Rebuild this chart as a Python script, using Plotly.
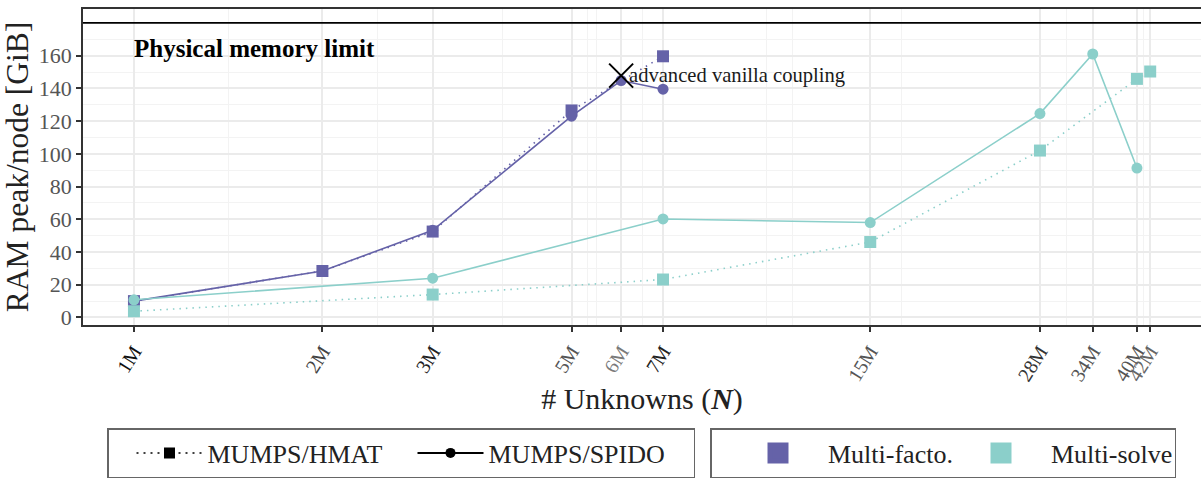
import numpy as np
import plotly.graph_objects as go

# ---------------- data ----------------
N_facto_spido = [1e6, 2e6, 3e6, 5e6, 6e6, 7e6]
ram_facto_spido = [10.0, 28.4, 53.3, 123.0, 144.8, 139.5]

N_facto_hmat = [1e6, 2e6, 3e6, 5e6, 7e6]
ram_facto_hmat = [10.0, 28.4, 52.5, 126.5, 159.6]

N_solve_spido = [1e6, 3e6, 7e6, 15e6, 28e6, 34e6, 40e6]
ram_solve_spido = [10.8, 24.0, 60.2, 58.0, 124.6, 161.0, 91.3]

N_solve_hmat = [1e6, 3e6, 7e6, 15e6, 28e6, 40e6, 42e6]
ram_solve_hmat = [3.8, 14.0, 23.2, 46.1, 102.0, 145.8, 150.3]

tick_N = [1e6, 2e6, 3e6, 5e6, 6e6, 7e6, 15e6, 28e6, 34e6, 40e6, 42e6]
tick_labels = ["1M", "2M", "3M", "5M", "6M", "7M", "15M", "28M", "34M", "40M", "42M"]
tick_colors = ["#111111", "#444444", "#222222", "#555555", "#7a7a7a", "#222222",
               "#555555", "#333333", "#555555", "#555555", "#666666"]
minor_N = [1.414e6, 2.449e6, 3.873e6, 5.31e6, 5.477e6, 6.48e6, 10.25e6,
           11.26e6, 16.8e6, 30.85e6, 40.99e6]

memory_limit = 180
vanilla_N = 6e6
vanilla_ram = 147.8

PURPLE = "#6562a8"
TEAL = "#8bcfca"
FONT = "Liberation Serif"

fig = go.Figure()

dot = "1.5px,5px"
fig.add_trace(go.Scatter(x=N_facto_hmat, y=ram_facto_hmat, mode="lines+markers",
                         line=dict(color=PURPLE, width=1.6, dash=dot),
                         marker=dict(symbol="square", size=12, color=PURPLE),
                         showlegend=False))
fig.add_trace(go.Scatter(x=N_facto_spido, y=ram_facto_spido, mode="lines+markers",
                         line=dict(color=PURPLE, width=1.6),
                         marker=dict(symbol="circle", size=11, color=PURPLE),
                         showlegend=False))
fig.add_trace(go.Scatter(x=N_solve_hmat, y=ram_solve_hmat, mode="lines+markers",
                         line=dict(color=TEAL, width=1.6, dash=dot),
                         marker=dict(symbol="square", size=12, color=TEAL),
                         showlegend=False))
fig.add_trace(go.Scatter(x=N_solve_spido, y=ram_solve_spido, mode="lines+markers",
                         line=dict(color=TEAL, width=1.6),
                         marker=dict(symbol="circle", size=11, color=TEAL),
                         showlegend=False))

# vanilla coupling cross
fig.add_trace(go.Scatter(x=[vanilla_N], y=[vanilla_ram], mode="markers",
                         marker=dict(symbol="x-thin", size=24, line=dict(color="black", width=2)),
                         showlegend=False))

# legend-only traces
fig.add_trace(go.Scatter(x=[None], y=[None], mode="lines+markers", name="MUMPS/HMAT",
                         line=dict(color="black", width=1.5, dash="2px,5px"),
                         marker=dict(symbol="square", size=11, color="black"),
                         legend="legend"))
fig.add_trace(go.Scatter(x=[None], y=[None], mode="lines+markers", name="MUMPS/SPIDO",
                         line=dict(color="black", width=2),
                         marker=dict(symbol="circle", size=10, color="black"),
                         legend="legend"))
fig.add_trace(go.Scatter(x=[None], y=[None], mode="markers", name="Multi-facto.",
                         marker=dict(symbol="square", size=16, color=PURPLE,
                                     line=dict(color=PURPLE, width=5)),
                         legend="legend2"))
fig.add_trace(go.Scatter(x=[None], y=[None], mode="markers", name="Multi-solve",
                         marker=dict(symbol="square", size=16, color=TEAL,
                                     line=dict(color=TEAL, width=5)),
                         legend="legend2"))

# physical memory limit
fig.add_shape(type="line", xref="paper", x0=0, x1=1, yref="y", y0=memory_limit, y1=memory_limit,
              line=dict(color="black", width=1.6), layer="above")
fig.add_annotation(x=np.log10(tick_N[0]), y=164.5, xref="x", yref="y",
                   text="<b>Physical memory limit</b>", showarrow=False,
                   xanchor="left", yanchor="middle", xshift=-2,
                   font=dict(family=FONT, size=25, color="black"))
fig.add_annotation(x=np.log10(vanilla_N), y=vanilla_ram, xref="x", yref="y",
                   text="advanced vanilla coupling", showarrow=False,
                   xanchor="left", yanchor="middle", xshift=6,
                   font=dict(family=FONT, size=20.6, color="#1a1a1a"))

ticktext = [f'<span style="color:{c}">{t}</span>' for t, c in zip(tick_labels, tick_colors)]

L, T, R, B = 83, 9, 1201, 325
PW, PH = R - L, B - T

fig.update_layout(
    width=1201, height=484,
    margin=dict(l=L, r=1201 - R, t=T, b=484 - B, autoexpand=False),
    paper_bgcolor="white", plot_bgcolor="white",
    font=dict(family=FONT, color="#222222"),
    xaxis=dict(
        type="log", range=[5.9186, 7.7044], automargin=False,
        tickmode="array", tickvals=tick_N, ticktext=ticktext, tickangle=-58,
        tickfont=dict(family=FONT, size=20, color="#4d4d4d"),
        ticks="outside", ticklen=5, tickwidth=1.5, tickcolor="#333333",
        showgrid=True, gridcolor="#ebebeb", gridwidth=2,
        minor=dict(tickmode="array", tickvals=minor_N, showgrid=True,
                   gridcolor="#f3f3f3", gridwidth=1.2, ticks=""),
        showline=True, linecolor="#333333", linewidth=1.5, mirror=True,
        zeroline=False,
        title=dict(text="# Unknowns (<b><i>N</i></b>)", standoff=4,
                   font=dict(family=FONT, size=30, color="#222222")),
    ),
    yaxis=dict(
        range=[-4.6, 188.5], automargin=False,
        tickmode="array", tickvals=list(range(0, 161, 20)),
        tickfont=dict(family=FONT, size=22, color="#555555"),
        ticks="outside", ticklen=5, tickwidth=1.5, tickcolor="#333333",
        showgrid=True, gridcolor="#ebebeb", gridwidth=2,
        minor=dict(tickmode="linear", tick0=0, dtick=10, showgrid=True,
                   gridcolor="#f3f3f3", gridwidth=1.2, ticks=""),
        showline=True, linecolor="#333333", linewidth=1.5, mirror=True,
        zeroline=False,
        title=dict(text="RAM peak/node [GiB]", standoff=2,
                   font=dict(family=FONT, size=31.5, color="#222222")),
    ),
    legend=dict(orientation="h", x=(107 - L) / PW, y=-(428 - B) / PH,
                xanchor="left", yanchor="top",
                bordercolor="#666666", borderwidth=1.5, itemwidth=66,
                title=dict(text="&nbsp;&nbsp;", side="left",
                           font=dict(family=FONT, size=26)),
                font=dict(family=FONT, size=26, color="#222222"),
                entrywidth=200, entrywidthmode="pixels"),
    legend2=dict(orientation="h", x=(710 - L) / PW, y=-(428 - B) / PH,
                 xanchor="left", yanchor="top",
                 bordercolor="#666666", borderwidth=1.5, itemwidth=90,
                 title=dict(text="&nbsp;", side="left",
                            font=dict(family=FONT, size=26)),
                 font=dict(family=FONT, size=26, color="#222222"),
                 entrywidth=118, entrywidthmode="pixels"),
)

fig.write_html("out.html", config={"displayModeBar": False},
               post_script="document.body.style.margin='0';")
